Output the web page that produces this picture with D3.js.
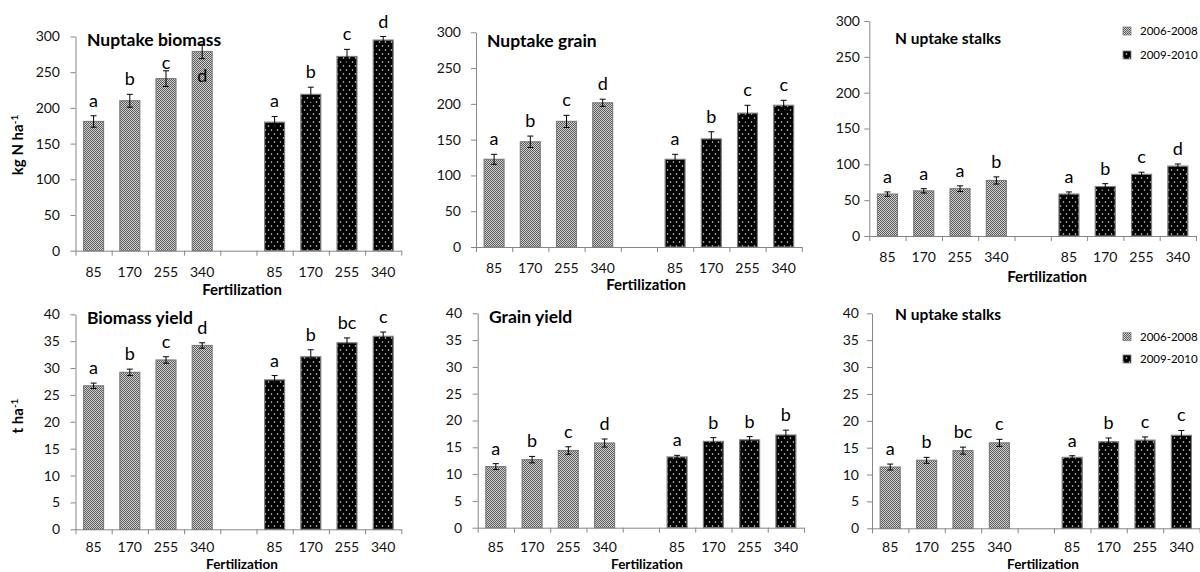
<!DOCTYPE html>
<html><head><meta charset="utf-8">
<script src="https://cdn.jsdelivr.net/npm/d3@7"></script>
<style>
body{margin:0;background:#fff;}
svg{display:block;font-family:Lato,"Open Sans",sans-serif;}
</style></head><body>
<script>
// Fertilization rates (kg N ha-1) and the two periods compared
const rates = ["85", "170", "255", "340"];
const periods = ["2006-2008", "2009-2010"];
const slotLabels = [...rates, "", ...rates];

// N uptake, whole biomass (kg N ha-1)
const nBiomass06 = [181, 210, 241, 279];
const nBiomassErr06 = [8, 9, 11, 10];
const nBiomassSig06 = ["a", "b", "c", "d"];
const nBiomass09 = [180, 219, 272, 295];
const nBiomassErr09 = [8, 10, 10, 5];
const nBiomassSig09 = ["a", "b", "c", "d"];

// N uptake, grain (kg N ha-1)
const nGrain06 = [122.5, 147, 175.5, 201.5];
const nGrainErr06 = [7, 8, 8.5, 5];
const nGrainSig06 = ["a", "b", "c", "d"];
const nGrain09 = [122.5, 151, 187, 198];
const nGrainErr09 = [7, 10, 11, 7];
const nGrainSig09 = ["a", "b", "c", "c"];

// N uptake, stalks (kg N ha-1)
const nStalks06 = [58.5, 63, 66, 77.5];
const nStalksErr06 = [3, 3, 4, 5];
const nStalksSig06 = ["a", "a", "a", "b"];
const nStalks09 = [58.5, 69, 86, 97.5];
const nStalksErr09 = [3, 4, 3, 3];
const nStalksSig09 = ["a", "b", "c", "d"];

// Biomass yield (t ha-1)
const biomass06 = [26.7, 29.2, 31.5, 34.2];
const biomassErr06 = [0.5, 0.6, 0.6, 0.5];
const biomassSig06 = ["a", "b", "c", "d"];
const biomass09 = [27.8, 32.1, 34.7, 35.9];
const biomassErr09 = [0.8, 1.3, 0.9, 0.8];
const biomassSig09 = ["a", "b", "bc", "c"];

// Grain yield (t ha-1)
const grain06 = [11.4, 12.7, 14.4, 15.8];
const grainErr06 = [0.55, 0.6, 0.7, 0.75];
const grainSig06 = ["a", "b", "c", "d"];
const grain09 = [13.2, 16.1, 16.4, 17.3];
const grainErr09 = [0.3, 0.7, 0.6, 0.9];
const grainSig09 = ["a", "b", "b", "b"];

// Stalks (t ha-1)
const stalks06 = [11.4, 12.65, 14.45, 15.9];
const stalksErr06 = [0.55, 0.55, 0.65, 0.65];
const stalksSig06 = ["a", "b", "bc", "c"];
const stalks09 = [13.2, 16.1, 16.4, 17.3];
const stalksErr09 = [0.3, 0.7, 0.6, 0.9];
const stalksSig09 = ["a", "b", "c", "c"];

const AXIS = "#868686";

const svg = d3.select("body").append("svg").attr("width", 1200).attr("height", 572);
const defs = svg.append("defs");

// fine grey checker fill for 2006-2008
const pc = defs.append("pattern").attr("id", "fillCheck")
  .attr("patternUnits", "userSpaceOnUse").attr("width", 2).attr("height", 2);
pc.append("rect").attr("width", 2).attr("height", 2).attr("fill", "#d2d2d2");
pc.append("rect").attr("width", 1).attr("height", 1).attr("fill", "#5a5a5a");
pc.append("rect").attr("x", 1).attr("y", 1).attr("width", 1).attr("height", 1).attr("fill", "#5a5a5a");

// black fill with white dots for 2009-2010
const pd = defs.append("pattern").attr("id", "fillDots")
  .attr("patternUnits", "userSpaceOnUse").attr("width", 6).attr("height", 8);
pd.append("rect").attr("width", 6).attr("height", 8).attr("fill", "#000");
pd.append("circle").attr("cx", 1.5).attr("cy", 2).attr("r", 0.8).attr("fill", "#e8e8e8");
pd.append("circle").attr("cx", 4.5).attr("cy", 6).attr("r", 0.8).attr("fill", "#e8e8e8");

const fills = ["url(#fillCheck)", "url(#fillDots)"];

const panels = [
  { title: "Nuptake biomass", s: [[nBiomass06, nBiomassErr06, nBiomassSig06], [nBiomass09, nBiomassErr09, nBiomassSig09]],
    yMax: 300, yStep: 50, x0: 75.5, x1: 401.3, y0: 250.7, yTop: 36.5, catDy: 26,
    titleX: 87, titleY: 46, titleSize: 17.5, labelRight: 60, xTitleX: 242, xTitleY: 295, xTitleSize: 15, inset: [0, 3] },
  { title: "Nuptake grain", s: [[nGrain06, nGrainErr06, nGrainSig06], [nGrain09, nGrainErr09, nGrainSig09]],
    yMax: 300, yStep: 50, x0: 476, x1: 801.8, y0: 247, yTop: 32.3, catDy: 26,
    titleX: 487, titleY: 47, titleSize: 17.5, labelRight: 461, xTitleX: 646, xTitleY: 290, xTitleSize: 15 },
  { title: "N uptake stalks", s: [[nStalks06, nStalksErr06, nStalksSig06], [nStalks09, nStalksErr09, nStalksSig09]],
    yMax: 300, yStep: 50, x0: 869.3, x1: 1196, y0: 236, yTop: 21, catDy: 26,
    titleX: 895, titleY: 44, titleSize: 15.5, labelRight: 860, xTitleX: 1047, xTitleY: 282, xTitleSize: 15, legend: [31, 55] },
  { title: "Biomass yield", s: [[biomass06, biomassErr06, biomassSig06], [biomass09, biomassErr09, biomassSig09]],
    yMax: 40, yStep: 5, x0: 75.5, x1: 401.3, y0: 529.3, yTop: 314.3, catDy: 23,
    titleX: 87, titleY: 324, titleSize: 17.5, labelRight: 60, xTitleX: 242, xTitleY: 569, xTitleSize: 13.5 },
  { title: "Grain yield", s: [[grain06, grainErr06, grainSig06], [grain09, grainErr09, grainSig09]],
    yMax: 40, yStep: 5, x0: 477.7, x1: 804, y0: 527.7, yTop: 313.3, catDy: 24.5,
    titleX: 489, titleY: 323, titleSize: 17.5, labelRight: 462, xTitleX: 647, xTitleY: 569, xTitleSize: 13.5 },
  { title: "N uptake stalks", s: [[stalks06, stalksErr06, stalksSig06], [stalks09, stalksErr09, stalksSig09]],
    yMax: 40, yStep: 5, x0: 872, x1: 1199.6, y0: 528.3, yTop: 313.3, catDy: 23.5,
    titleX: 895, titleY: 320, titleSize: 15.5, labelRight: 859, xTitleX: 1043, xTitleY: 569, xTitleSize: 13.5, legend: [336.7, 359] }
];

function drawPanel(p) {
  const g = svg.append("g");
  const x = d3.scaleBand().domain(d3.range(slotLabels.length))
    .range([p.x0, p.x1]).paddingInner(0.45).paddingOuter(0.225);
  const y = d3.scaleLinear().domain([0, p.yMax]).range([p.y0, p.yTop]);
  const bound = d3.scaleLinear().domain([0, slotLabels.length]).range([p.x0, p.x1]);

  // y axis
  const ya = g.append("g").attr("transform", `translate(${p.x0},0)`)
    .call(d3.axisLeft(y).tickValues(d3.range(0, p.yMax + p.yStep / 2, p.yStep))
      .tickSize(5).tickSizeOuter(0).tickPadding(p.x0 - p.labelRight - 5));
  ya.select(".domain").attr("stroke", AXIS);
  ya.selectAll(".tick line").attr("stroke", AXIS);
  ya.selectAll(".tick text").attr("font-size", 14).attr("font-family", "Lato").attr("fill", "#111");

  // x axis: ticks at category boundaries
  const xa = g.append("g").attr("transform", `translate(0,${p.y0})`)
    .call(d3.axisBottom(bound).tickValues(d3.range(slotLabels.length + 1))
      .tickSize(5).tickSizeOuter(0).tickFormat(""));
  xa.select(".domain").attr("stroke", AXIS);
  xa.selectAll(".tick line").attr("stroke", AXIS);

  g.selectAll("text.cat").data(slotLabels).join("text").attr("class", "cat")
    .attr("x", (d, i) => x(i) + x.bandwidth() / 2).attr("y", p.y0 + p.catDy)
    .attr("text-anchor", "middle").attr("font-size", 14).attr("fill", "#111").text(d => d);

  g.append("text").attr("x", p.xTitleX).attr("y", p.xTitleY).attr("text-anchor", "middle")
    .attr("font-size", p.xTitleSize).attr("font-weight", "bold").text("Fertilization");

  const title = g.append("text").attr("x", p.titleX).attr("y", p.titleY)
    .attr("font-size", p.titleSize).attr("font-weight", "bold").text(p.title);
  const tb = title.node().getBBox();

  // bars, error bars, significance letters
  p.s.forEach((ser, si) => {
    const [vals, errs, sig] = ser;
    const rows = vals.map((v, i) => ({ v, e: errs[i], l: sig[i], slot: si * 5 + i, i }));
    const bw = x.bandwidth();
    g.selectAll(null).data(rows).join("rect")
      .attr("x", d => x(d.slot)).attr("width", bw)
      .attr("y", d => y(d.v)).attr("height", d => p.y0 - y(d.v))
      .attr("fill", fills[si]).attr("stroke", "#7d7d7d").attr("stroke-width", 1.2);
    const eb = g.selectAll(null).data(rows).join("g")
      .attr("transform", d => `translate(${x(d.slot) + bw / 2},0)`)
      .attr("stroke", "#000").attr("stroke-width", 1);
    eb.append("line").attr("y1", d => y(d.v - d.e)).attr("y2", d => y(d.v + d.e));
    eb.append("line").attr("x1", -3).attr("x2", 3).attr("y1", d => y(d.v + d.e)).attr("y2", d => y(d.v + d.e));
    eb.append("line").attr("x1", -3).attr("x2", 3).attr("y1", d => y(d.v - d.e)).attr("y2", d => y(d.v - d.e));
    g.selectAll(null).data(rows).join("text")
      .attr("x", d => x(d.slot) + bw / 2)
      .attr("y", d => (p.inset && p.inset[0] === si && p.inset[1] === d.i) ? y(d.v) + 31 : y(d.v + d.e) - 9)
      .attr("text-anchor", "middle").attr("font-size", 18).attr("fill", "#000").text(d => d.l)
      .each(function () {
        // keep letters clear of the panel title
        const b = this.getBBox();
        const hx = b.x < tb.x + tb.width && b.x + b.width > tb.x;
        const hy = b.y < tb.y + tb.height && b.y + b.height > tb.y;
        if (hx && hy && b.y > tb.y) {
          const shift = tb.y + tb.height - b.y + 0.5;
          d3.select(this).attr("y", +d3.select(this).attr("y") + shift);
        }
      });
  });

  if (p.legend) {
    periods.forEach((lab, i) => {
      g.append("rect").attr("x", 1123).attr("y", p.legend[i] - 4).attr("width", 8).attr("height", 8)
        .attr("fill", fills[i]).attr("stroke", "#7d7d7d").attr("stroke-width", 0.8);
      g.append("text").attr("x", 1140).attr("y", p.legend[i] + 4.2)
        .attr("font-size", 11.5).text(lab);
    });
  }
}

panels.forEach(drawPanel);

// y-axis titles
const yt1 = svg.append("text").attr("transform", "translate(23,145) rotate(-90)")
  .attr("text-anchor", "middle").attr("font-size", 15).attr("font-weight", "bold");
yt1.append("tspan").text("kg N ha");
yt1.append("tspan").attr("dy", -5).attr("font-size", 10).text("-1");

const yt2 = svg.append("text").attr("transform", "translate(23,416) rotate(-90)")
  .attr("text-anchor", "middle").attr("font-size", 15).attr("font-weight", "bold");
yt2.append("tspan").text("t  ha");
yt2.append("tspan").attr("dy", -5).attr("font-size", 10).text("-1");
</script>
</body></html>
